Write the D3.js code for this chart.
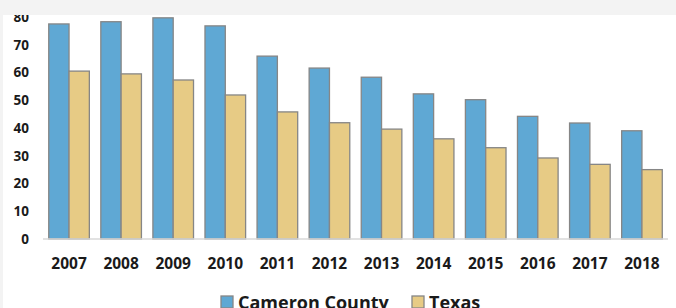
<!DOCTYPE html>
<html>
<head>
<meta charset="utf-8">
<title>Cameron County vs Texas</title>
<script src="https://d3js.org/d3.v7.min.js"></script>
<style>
  html, body { margin: 0; padding: 0; background: #f3f3f3; }
  svg { display: block; }
  text { font-family: "Open Sans", sans-serif; font-weight: bold; fill: #1a1a1a; }
</style>
</head>
<body>
<div id="chart"></div>
<script>
var years = ["2007","2008","2009","2010","2011","2012","2013","2014","2015","2016","2017","2018"];
var cameron = [77.5, 78.3, 79.7, 76.8, 65.9, 61.6, 58.3, 52.3, 50.2, 44.2, 41.8, 39.0];
var texas = [60.5, 59.5, 57.3, 51.9, 45.8, 41.9, 39.6, 36.1, 32.9, 29.2, 26.9, 25.0];
var yTicks = [0, 10, 20, 30, 40, 50, 60, 70, 80];
var seriesNames = ["Cameron County", "Texas"];
var seriesColors = ["#5fa8d4", "#e7cb85"];

var width = 676, height = 308;

var svg = d3.select("#chart").append("svg")
    .attr("width", width)
    .attr("height", height);

// white plot background
svg.append("rect")
    .attr("x", 3).attr("y", 15)
    .attr("width", width - 3).attr("height", height - 15)
    .attr("fill", "#ffffff");

var x = d3.scaleBand()
    .domain(years)
    .range([43, 668])
    .paddingInner(0.22)
    .paddingOuter(0.11);

var x1 = d3.scaleBand()
    .domain(seriesNames)
    .range([0, x.bandwidth()]);

var y = d3.scaleLinear()
    .domain([0, 80])
    .range([239, 17]);

var rows = years.map(function(yr, i) {
    return { year: yr, values: [cameron[i], texas[i]] };
});

var groups = svg.append("g").selectAll("g")
    .data(rows)
    .enter().append("g")
    .attr("transform", function(d) { return "translate(" + x(d.year) + ",0)"; });

groups.selectAll("rect")
    .data(function(d) { return d.values.map(function(v, j) { return { name: seriesNames[j], v: v, j: j }; }); })
    .enter().append("rect")
    .attr("x", function(d) { return x1(d.name); })
    .attr("y", function(d) { return y(d.v); })
    .attr("width", x1.bandwidth())
    .attr("height", function(d) { return y(0) - y(d.v); })
    .attr("fill", function(d) { return seriesColors[d.j]; })
    .attr("stroke", "#868686")
    .attr("stroke-width", 1.3);

// baseline
svg.append("line")
    .attr("x1", 43).attr("x2", 668)
    .attr("y1", y(0)).attr("y2", y(0))
    .attr("stroke", "#d9d9d9")
    .attr("stroke-width", 1.5);

// y labels
svg.append("g").selectAll("text")
    .data(yTicks)
    .enter().append("text")
    .attr("x", 29)
    .attr("y", function(d) { return y(d); })
    .attr("dy", "0.36em")
    .attr("text-anchor", "end")
    .style("font-size", "13.5px")
    .text(function(d) { return d; });

// x labels
svg.append("g").selectAll("text")
    .data(years)
    .enter().append("text")
    .attr("x", function(d) { return x(d) + x.bandwidth() / 2; })
    .attr("y", 269)
    .attr("text-anchor", "middle")
    .style("font-size", "15.5px")
    .text(function(d) { return d; });

// legend
var legendX = [221, 412];
var legend = svg.append("g").selectAll("g")
    .data(seriesNames)
    .enter().append("g")
    .attr("transform", function(d, i) { return "translate(" + legendX[i] + ",296)"; });

legend.append("rect")
    .attr("width", 12).attr("height", 12)
    .attr("fill", function(d, i) { return seriesColors[i]; })
    .attr("stroke", "#868686")
    .attr("stroke-width", 1.3);

legend.append("text")
    .attr("x", 17)
    .attr("y", 13)
    .style("font-size", "18px")
    .text(function(d) { return d; });

// grey band at the top clips the 80 label like the original
svg.append("rect")
    .attr("x", 0).attr("y", 0)
    .attr("width", width).attr("height", 15)
    .attr("fill", "#f3f3f3");
</script>
</body>
</html>
